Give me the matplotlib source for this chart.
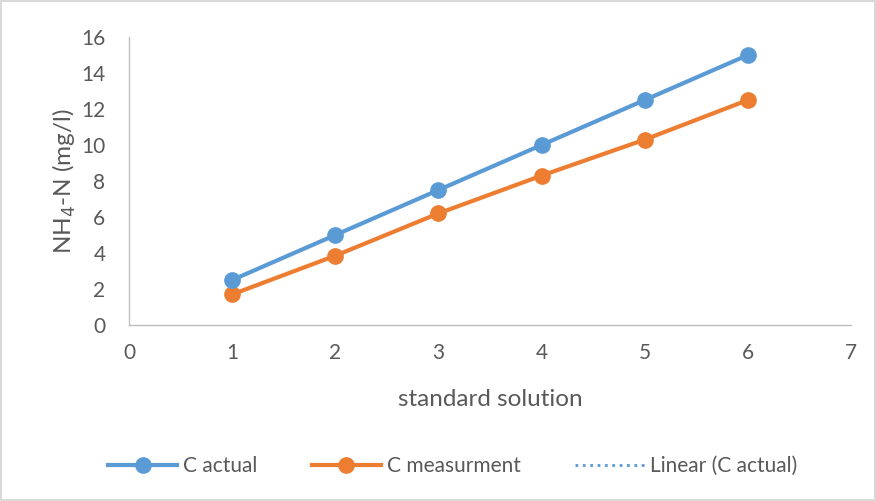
import matplotlib
matplotlib.use("Agg")
import matplotlib.pyplot as plt
import numpy as np

plt.rcParams['font.family'] = ['Lato', 'DejaVu Sans']

x = [1, 2, 3, 4, 5, 6]
c_actual = [2.5, 5.0, 7.5, 10.0, 12.5, 15.0]
c_measurement = [1.7, 3.85, 6.2, 8.3, 10.3, 12.5]

blue = '#5B9BD5'
orange = '#ED7D31'
text_col = '#595959'
axis_col = '#BFBFBF'

fig = plt.figure(figsize=(8.76, 5.01), dpi=100)
fig.patch.set_edgecolor('#D9D9D9')
fig.patch.set_linewidth(1.5)
ax = fig.add_axes([0.1473, 0.3513, 0.8242, 0.5748])

# linear trendline of C actual
coef = np.polyfit(x, c_actual, 1)
xt = np.array([x[0], x[-1]])
ax.plot(xt, np.polyval(coef, xt), linestyle=':', color=blue, lw=2,
        label='Linear (C actual)', zorder=1)

ax.plot(x, c_actual, '-o', color=blue, lw=3, ms=11, label='C actual', zorder=3)
ax.plot(x, c_measurement, '-o', color=orange, lw=3, ms=11, label='C measurment', zorder=2)

ax.set_xlim(0, 7)
ax.set_ylim(0, 16)
ax.set_xticks(range(0, 8))
ax.set_yticks(range(0, 17, 2))
for s in ['top', 'right']:
    ax.spines[s].set_visible(False)
for s in ['left', 'bottom']:
    ax.spines[s].set_color(axis_col)
    ax.spines[s].set_linewidth(1)
ax.tick_params(length=0, colors=text_col, labelsize=15)
ax.tick_params(axis='x', pad=13)
ax.tick_params(axis='y', pad=17)

ax.set_xlabel('standard solution', fontsize=17.5, color=text_col, labelpad=19)
ax.set_ylabel('NH$_4$-N (mg/l)', fontsize=17.5, color=text_col, labelpad=2)

handles, labels = ax.get_legend_handles_labels()
order = [1, 2, 0]
leg = fig.legend([handles[i] for i in order], [labels[i] for i in order],
                 loc='center', bbox_to_anchor=(0.517, 0.07), ncol=3, frameon=False,
                 fontsize=15, handlelength=3.3, columnspacing=2.6, handletextpad=0.3)
for t in leg.get_texts():
    t.set_color(text_col)

fig.savefig('out.png', dpi=100, edgecolor=fig.get_edgecolor())
